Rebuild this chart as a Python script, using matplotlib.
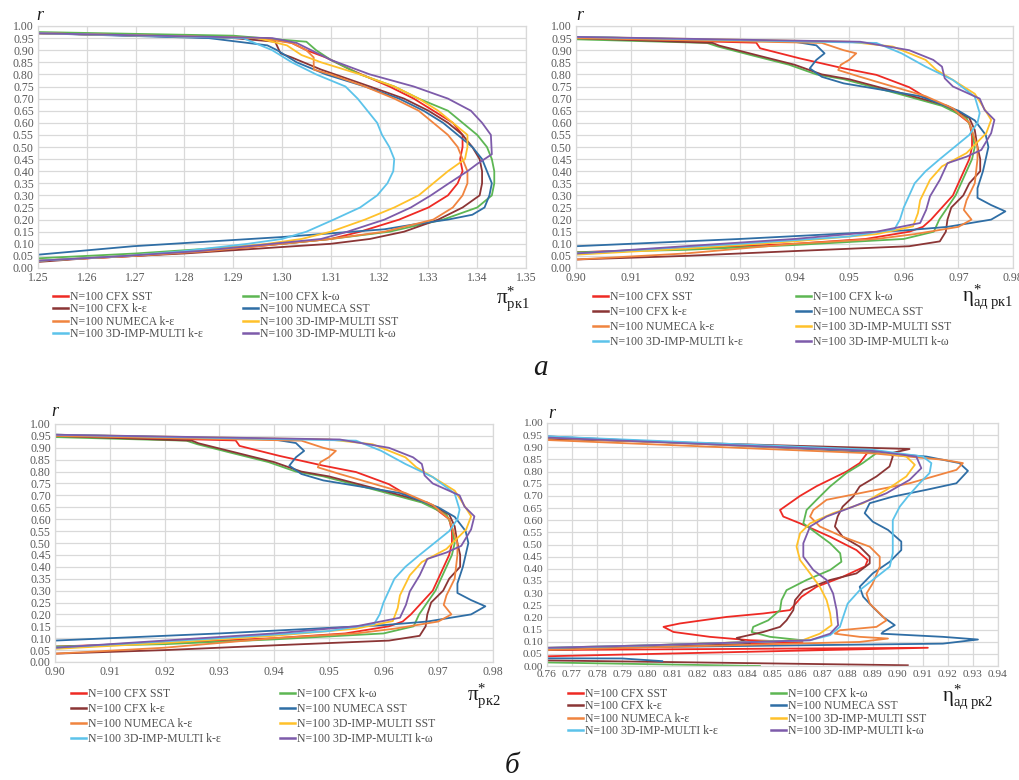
import matplotlib
matplotlib.use("Agg")
import matplotlib.pyplot as plt
from matplotlib.lines import Line2D
import numpy as np

W, H = 1019, 780
SERIF = "Liberation Serif"
plt.rcParams["mathtext.fontset"] = "custom"
plt.rcParams["mathtext.rm"] = SERIF
plt.rcParams["mathtext.it"] = SERIF + ":italic"
plt.rcParams["mathtext.bf"] = SERIF + ":bold"

NAMES = ["N=100 CFX SST", "N=100 CFX k-ω", "N=100 CFX k-ε", "N=100 NUMECA SST",
         "N=100 NUMECA k-ε", "N=100 3D-IMP-MULTI SST", "N=100 3D-IMP-MULTI k-ε",
         "N=100 3D-IMP-MULTI k-ω"]
COLORS = ["#EE2A24", "#5DB653", "#8B3535", "#2F6EA5", "#F0843F", "#FFC12A", "#5CC3EA", "#7D5BAA"]

# ---------------- Panel 1: pi*_rk1 ----------------
P1_TICKS_X = [1.25, 1.26, 1.27, 1.28, 1.29, 1.30, 1.31, 1.32, 1.33, 1.34, 1.35]
p1_cfx_sst_r = [0.97, 0.95, 0.93, 0.90, 0.87, 0.82, 0.75, 0.70, 0.65, 0.60, 0.55, 0.50, 0.45, 0.40, 0.35, 0.30, 0.25, 0.20, 0.15, 0.12, 0.10, 0.07, 0.05, 0.03]
p1_cfx_sst_x = [1.25, 1.297, 1.302, 1.305, 1.309, 1.314, 1.322, 1.327, 1.331, 1.335, 1.337, 1.337, 1.3365, 1.337, 1.336, 1.334, 1.330, 1.324, 1.316, 1.31, 1.30, 1.285, 1.27, 1.25]
p1_cfx_kw_r = [0.975, 0.96, 0.935, 0.90, 0.86, 0.80, 0.75, 0.70, 0.65, 0.60, 0.55, 0.50, 0.45, 0.40, 0.35, 0.30, 0.25, 0.20, 0.15, 0.12, 0.10, 0.08, 0.06, 0.04]
p1_cfx_kw_x = [1.25, 1.29, 1.305, 1.307, 1.310, 1.316, 1.323, 1.328, 1.334, 1.337, 1.340, 1.342, 1.343, 1.3435, 1.3435, 1.343, 1.340, 1.333, 1.322, 1.31, 1.30, 1.285, 1.27, 1.25]
p1_cfx_ke_r = [0.97, 0.95, 0.935, 0.887, 0.87, 0.82, 0.75, 0.70, 0.65, 0.60, 0.55, 0.50, 0.45, 0.40, 0.35, 0.30, 0.25, 0.20, 0.15, 0.12, 0.10, 0.08, 0.06, 0.04, 0.025]
p1_cfx_ke_x = [1.25, 1.29, 1.2986, 1.2997, 1.302, 1.308, 1.318, 1.325, 1.330, 1.334, 1.337, 1.339, 1.3405, 1.341, 1.341, 1.3405, 1.337, 1.332, 1.325, 1.318, 1.31, 1.295, 1.28, 1.26, 1.25]
p1_num_sst_r = [0.97, 0.95, 0.92, 0.90, 0.85, 0.80, 0.75, 0.70, 0.65, 0.60, 0.55, 0.50, 0.45, 0.40, 0.35, 0.30, 0.25, 0.22, 0.20, 0.18, 0.16, 0.128, 0.09, 0.055]
p1_num_sst_x = [1.25, 1.285, 1.297, 1.299, 1.303, 1.309, 1.317, 1.324, 1.329, 1.333, 1.336, 1.339, 1.341, 1.342, 1.343, 1.3425, 1.3415, 1.339, 1.334, 1.327, 1.321, 1.30, 1.2695, 1.25]
p1_num_ke_r = [0.97, 0.95, 0.93, 0.90, 0.87, 0.82, 0.80, 0.75, 0.70, 0.65, 0.60, 0.55, 0.50, 0.45, 0.40, 0.35, 0.30, 0.25, 0.20, 0.15, 0.12, 0.10, 0.07, 0.05, 0.03]
p1_num_ke_x = [1.25, 1.295, 1.302, 1.305, 1.3065, 1.3065, 1.310, 1.317, 1.323, 1.328, 1.331, 1.334, 1.336, 1.337, 1.338, 1.338, 1.337, 1.335, 1.331, 1.321, 1.31, 1.30, 1.285, 1.27, 1.25]
p1_imp_sst_r = [0.97, 0.95, 0.92, 0.88, 0.85, 0.80, 0.75, 0.70, 0.65, 0.60, 0.55, 0.50, 0.45, 0.40, 0.35, 0.30, 0.25, 0.20, 0.15, 0.12, 0.10, 0.07, 0.05, 0.03]
p1_imp_sst_x = [1.25, 1.295, 1.301, 1.304, 1.308, 1.316, 1.323, 1.328, 1.332, 1.335, 1.338, 1.338, 1.3375, 1.334, 1.331, 1.328, 1.323, 1.317, 1.31, 1.304, 1.297, 1.282, 1.268, 1.25]
p1_imp_ke_r = [0.97, 0.95, 0.90, 0.85, 0.80, 0.75, 0.70, 0.65, 0.60, 0.55, 0.50, 0.45, 0.40, 0.35, 0.30, 0.25, 0.20, 0.15, 0.12, 0.10, 0.07, 0.05, 0.03]
p1_imp_ke_x = [1.25, 1.292, 1.298, 1.302, 1.307, 1.313, 1.3155, 1.3175, 1.3195, 1.3205, 1.322, 1.323, 1.3228, 1.3216, 1.3195, 1.316, 1.3106, 1.305, 1.300, 1.293, 1.28, 1.268, 1.25]
p1_imp_kw_r = [0.97, 0.95, 0.93, 0.90, 0.86, 0.80, 0.75, 0.70, 0.65, 0.60, 0.55, 0.47, 0.43, 0.40, 0.35, 0.30, 0.25, 0.20, 0.15, 0.12, 0.10, 0.07, 0.05, 0.03]
p1_imp_kw_x = [1.25, 1.298, 1.303, 1.306, 1.31, 1.318, 1.327, 1.334, 1.3387, 1.341, 1.3428, 1.343, 1.340, 1.338, 1.3342, 1.3305, 1.3264, 1.321, 1.3134, 1.308, 1.298, 1.283, 1.268, 1.25]

# ---------------- Panel 2 (and 3): eta*_ad rk1 / pi*_rk2 ----------------
P2_TICKS_X = [0.90, 0.91, 0.92, 0.93, 0.94, 0.95, 0.96, 0.97, 0.98]
p2_cfx_sst_r = [0.95, 0.931, 0.908, 0.866, 0.825, 0.798, 0.747, 0.695, 0.653, 0.60, 0.55, 0.50, 0.45, 0.40, 0.35, 0.30, 0.25, 0.20, 0.17, 0.15, 0.12, 0.10, 0.08, 0.065]
p2_cfx_sst_x = [0.90, 0.933, 0.9337, 0.941, 0.949, 0.955, 0.961, 0.9648, 0.969, 0.972, 0.9725, 0.9725, 0.972, 0.971, 0.970, 0.969, 0.967, 0.965, 0.9635, 0.961, 0.953, 0.94, 0.92, 0.90]
p2_cfx_kw_r = [0.945, 0.93, 0.915, 0.88, 0.84, 0.80, 0.78, 0.72, 0.67, 0.62, 0.57, 0.50, 0.45, 0.40, 0.35, 0.30, 0.25, 0.20, 0.15, 0.12, 0.095, 0.075, 0.065]
p2_cfx_kw_x = [0.90, 0.924, 0.926, 0.932, 0.939, 0.944, 0.949, 0.959, 0.967, 0.9715, 0.9725, 0.973, 0.9725, 0.9715, 0.9705, 0.9695, 0.968, 0.9665, 0.9655, 0.96, 0.94, 0.92, 0.90]
p2_cfx_ke_r = [0.95, 0.93, 0.919, 0.88, 0.84, 0.80, 0.78, 0.72, 0.67, 0.62, 0.57, 0.50, 0.45, 0.40, 0.35, 0.30, 0.25, 0.20, 0.15, 0.11, 0.09, 0.07, 0.05, 0.035]
p2_cfx_ke_x = [0.90, 0.925, 0.9262, 0.933, 0.940, 0.945, 0.950, 0.960, 0.968, 0.972, 0.973, 0.9735, 0.974, 0.974, 0.972, 0.9709, 0.9687, 0.968, 0.9677, 0.9666, 0.961, 0.94, 0.92, 0.90]
p2_num_sst_r = [0.955, 0.935, 0.92, 0.887, 0.86, 0.825, 0.79, 0.763, 0.71, 0.65, 0.61, 0.55, 0.50, 0.45, 0.40, 0.33, 0.29, 0.26, 0.234, 0.20, 0.17, 0.155, 0.12, 0.09]
p2_num_sst_x = [0.90, 0.94, 0.944, 0.9455, 0.944, 0.9428, 0.945, 0.949, 0.963, 0.970, 0.973, 0.975, 0.9755, 0.975, 0.9745, 0.9735, 0.9735, 0.976, 0.9786, 0.976, 0.968, 0.96, 0.93, 0.90]
p2_num_ke_r = [0.95, 0.93, 0.90, 0.887, 0.86, 0.84, 0.818, 0.79, 0.75, 0.71, 0.66, 0.60, 0.50, 0.45, 0.35, 0.28, 0.24, 0.20, 0.17, 0.14, 0.12, 0.10, 0.08, 0.06, 0.035]
p2_num_ke_x = [0.90, 0.945, 0.949, 0.9513, 0.950, 0.9485, 0.948, 0.952, 0.958, 0.964, 0.969, 0.972, 0.9735, 0.9735, 0.973, 0.9715, 0.971, 0.9724, 0.970, 0.962, 0.955, 0.94, 0.93, 0.92, 0.90]
p2_imp_sst_r = [0.955, 0.935, 0.915, 0.86, 0.818, 0.777, 0.72, 0.667, 0.612, 0.557, 0.516, 0.475, 0.42, 0.364, 0.28, 0.227, 0.172, 0.14, 0.11, 0.08, 0.055]
p2_imp_sst_x = [0.90, 0.950, 0.958, 0.964, 0.966, 0.969, 0.973, 0.9745, 0.976, 0.9751, 0.9733, 0.9715, 0.967, 0.9648, 0.963, 0.9626, 0.9617, 0.955, 0.94, 0.92, 0.90]
p2_imp_ke_r = [0.955, 0.93, 0.887, 0.832, 0.777, 0.708, 0.64, 0.60, 0.55, 0.50, 0.45, 0.40, 0.35, 0.30, 0.25, 0.20, 0.16, 0.13, 0.10, 0.06]
p2_imp_ke_x = [0.90, 0.955, 0.9596, 0.964, 0.969, 0.973, 0.9739, 0.9735, 0.972, 0.9693, 0.9666, 0.964, 0.962, 0.961, 0.960, 0.9593, 0.9583, 0.95, 0.93, 0.90]
p2_imp_kw_r = [0.955, 0.935, 0.90, 0.86, 0.832, 0.784, 0.75, 0.70, 0.653, 0.612, 0.557, 0.488, 0.46, 0.433, 0.364, 0.296, 0.24, 0.186, 0.15, 0.12, 0.09, 0.06]
p2_imp_kw_x = [0.90, 0.952, 0.961, 0.9654, 0.967, 0.9675, 0.969, 0.9739, 0.9748, 0.9766, 0.976, 0.9742, 0.9715, 0.968, 0.9666, 0.9648, 0.9641, 0.963, 0.955, 0.94, 0.92, 0.90]

# ---------------- Panel 4: eta*_ad rk2 ----------------
P4_TICKS_X = [0.76, 0.77, 0.78, 0.79, 0.80, 0.81, 0.82, 0.83, 0.84, 0.85, 0.86, 0.87, 0.88, 0.89, 0.90, 0.91, 0.92, 0.93, 0.94]
p4_cfx_sst_r = [0.94, 0.89, 0.835, 0.80, 0.74, 0.70, 0.642, 0.615, 0.587, 0.532, 0.477, 0.436, 0.41, 0.367, 0.326, 0.285, 0.23, 0.216, 0.202, 0.175, 0.161, 0.14, 0.12, 0.106, 0.099, 0.068, 0.062, 0.075, 0.04, 0.035]
p4_cfx_sst_x = [0.76, 0.8888, 0.8848, 0.8795, 0.8676, 0.861, 0.853, 0.8543, 0.861, 0.873, 0.8835, 0.888, 0.887, 0.878, 0.8676, 0.8616, 0.857, 0.8463, 0.8317, 0.813, 0.8065, 0.8105, 0.825, 0.841, 0.862, 0.76, 0.70, 0.912, 0.76, 0.70]
p4_cfx_kw_r = [0.94, 0.89, 0.876, 0.835, 0.794, 0.739, 0.684, 0.642, 0.587, 0.546, 0.505, 0.464, 0.429, 0.395, 0.354, 0.312, 0.271, 0.23, 0.188, 0.161, 0.14, 0.12, 0.106, 0.07, 0.06, 0.02, 0.0145, 0.0]
p4_cfx_kw_x = [0.76, 0.888, 0.8915, 0.886, 0.8795, 0.873, 0.8676, 0.8636, 0.8623, 0.8676, 0.873, 0.877, 0.8775, 0.873, 0.8636, 0.8556, 0.8536, 0.853, 0.8483, 0.8423, 0.8417, 0.849, 0.862, 0.76, 0.70, 0.70, 0.76, 0.845]
p4_cfx_ke_r = [0.935, 0.893, 0.875, 0.862, 0.821, 0.78, 0.739, 0.697, 0.656, 0.615, 0.574, 0.532, 0.491, 0.45, 0.422, 0.381, 0.354, 0.312, 0.271, 0.23, 0.188, 0.161, 0.14, 0.1155, 0.092, 0.065, 0.06, 0.025, 0.023, 0.003]
p4_cfx_ke_x = [0.76, 0.9047, 0.897, 0.898, 0.8967, 0.8915, 0.8848, 0.8822, 0.878, 0.876, 0.8749, 0.878, 0.8848, 0.8888, 0.8888, 0.8835, 0.873, 0.8623, 0.859, 0.8583, 0.8556, 0.853, 0.8463, 0.8357, 0.841, 0.76, 0.70, 0.70, 0.76, 0.904]
p4_num_sst_r = [0.945, 0.88, 0.862, 0.835, 0.803, 0.752, 0.725, 0.697, 0.67, 0.629, 0.594, 0.56, 0.512, 0.477, 0.429, 0.381, 0.326, 0.285, 0.243, 0.202, 0.168, 0.14, 0.133, 0.12, 0.109, 0.092, 0.073, 0.07, 0.033, 0.031, 0.02]
p4_num_sst_x = [0.76, 0.89, 0.9114, 0.9246, 0.928, 0.9234, 0.9114, 0.898, 0.8888, 0.8868, 0.890, 0.8961, 0.9014, 0.9014, 0.8968, 0.890, 0.8848, 0.8862, 0.890, 0.8941, 0.8988, 0.8941, 0.8935, 0.918, 0.932, 0.918, 0.76, 0.70, 0.70, 0.79, 0.806]
p4_num_ke_r = [0.93, 0.875, 0.849, 0.835, 0.807, 0.752, 0.711, 0.684, 0.642, 0.615, 0.574, 0.532, 0.491, 0.45, 0.409, 0.34, 0.298, 0.257, 0.216, 0.188, 0.161, 0.147, 0.133, 0.12, 0.113, 0.099, 0.066, 0.062]
p4_num_ke_x = [0.76, 0.89, 0.918, 0.926, 0.9234, 0.9047, 0.8848, 0.8716, 0.8663, 0.865, 0.8689, 0.878, 0.8888, 0.8928, 0.8928, 0.890, 0.8875, 0.8888, 0.8928, 0.8955, 0.8915, 0.8769, 0.8749, 0.8848, 0.8961, 0.8848, 0.76, 0.70]
p4_imp_sst_r = [0.94, 0.885, 0.862, 0.828, 0.78, 0.725, 0.67, 0.629, 0.587, 0.546, 0.491, 0.436, 0.381, 0.326, 0.271, 0.216, 0.168, 0.133, 0.106, 0.085, 0.075, 0.07]
p4_imp_sst_x = [0.76, 0.89, 0.9034, 0.9068, 0.9034, 0.8955, 0.8862, 0.8742, 0.865, 0.861, 0.8596, 0.861, 0.865, 0.8689, 0.8716, 0.873, 0.8736, 0.8689, 0.862, 0.80, 0.76, 0.70]
p4_imp_ke_r = [0.945, 0.89, 0.862, 0.835, 0.794, 0.752, 0.697, 0.656, 0.60, 0.532, 0.464, 0.409, 0.354, 0.312, 0.257, 0.202, 0.161, 0.127, 0.106, 0.085, 0.075, 0.07]
p4_imp_ke_x = [0.76, 0.89, 0.910, 0.9134, 0.9127, 0.9087, 0.904, 0.9008, 0.898, 0.898, 0.898, 0.8968, 0.890, 0.8848, 0.880, 0.8782, 0.8769, 0.873, 0.865, 0.80, 0.76, 0.70]
p4_imp_kw_r = [0.94, 0.885, 0.862, 0.814, 0.766, 0.711, 0.656, 0.615, 0.574, 0.505, 0.45, 0.395, 0.354, 0.298, 0.23, 0.168, 0.133, 0.106, 0.085, 0.075, 0.07]
p4_imp_kw_x = [0.76, 0.89, 0.9074, 0.9094, 0.9047, 0.8955, 0.8822, 0.8716, 0.865, 0.8623, 0.8623, 0.8663, 0.8716, 0.8742, 0.8756, 0.8762, 0.873, 0.865, 0.80, 0.76, 0.70]

P1 = [(p1_cfx_sst_x, p1_cfx_sst_r), (p1_cfx_kw_x, p1_cfx_kw_r), (p1_cfx_ke_x, p1_cfx_ke_r),
      (p1_num_sst_x, p1_num_sst_r), (p1_num_ke_x, p1_num_ke_r), (p1_imp_sst_x, p1_imp_sst_r),
      (p1_imp_ke_x, p1_imp_ke_r), (p1_imp_kw_x, p1_imp_kw_r)]
P2 = [(p2_cfx_sst_x, p2_cfx_sst_r), (p2_cfx_kw_x, p2_cfx_kw_r), (p2_cfx_ke_x, p2_cfx_ke_r),
      (p2_num_sst_x, p2_num_sst_r), (p2_num_ke_x, p2_num_ke_r), (p2_imp_sst_x, p2_imp_sst_r),
      (p2_imp_ke_x, p2_imp_ke_r), (p2_imp_kw_x, p2_imp_kw_r)]
P4 = [(p4_cfx_sst_x, p4_cfx_sst_r), (p4_cfx_kw_x, p4_cfx_kw_r), (p4_cfx_ke_x, p4_cfx_ke_r),
      (p4_num_sst_x, p4_num_sst_r), (p4_num_ke_x, p4_num_ke_r), (p4_imp_sst_x, p4_imp_sst_r),
      (p4_imp_ke_x, p4_imp_ke_r), (p4_imp_kw_x, p4_imp_kw_r)]
R_TICKS = [round(0.05 * i, 2) for i in range(21)]

fig = plt.figure(figsize=(W / 100, H / 100), dpi=100)
fig.patch.set_facecolor("white")

def px_axes(l, r, t, b):
    return fig.add_axes([l / W, 1 - b / H, (r - l) / W, (b - t) / H])

def fx(x):
    return x / W

def fy(y):
    return 1 - y / H

GRID = "#d9d9d9"
TICKC = "#595959"

def setup(ax, xticks, fs):
    ax.set_xlim(xticks[0], xticks[-1])
    ax.set_ylim(0, 1.0)
    ax.set_xticks(xticks)
    ax.set_xticklabels([f"{v:.2f}" for v in xticks], fontfamily=SERIF, fontsize=fs, color=TICKC)
    ax.set_yticks(R_TICKS)
    ax.set_yticklabels([f"{v:.2f}" for v in R_TICKS], fontfamily=SERIF, fontsize=fs, color=TICKC)
    ax.tick_params(length=0, pad=3)
    ax.grid(True, color=GRID, lw=0.9)
    ax.set_axisbelow(True)
    for s in ax.spines.values():
        s.set_color(GRID)
        s.set_linewidth(0.9)

def draw(ax, data):
    for (xs, rs), c, n in zip(data, COLORS, NAMES):
        ax.plot(xs, rs, color=c, lw=1.3, label=n, solid_joinstyle="round")

def legends(ax, x1, x2, ytop, spacing):
    hs = [Line2D([], [], color=c, lw=1.8) for c in COLORS]
    col1 = [0, 2, 4, 6]
    col2 = [1, 3, 5, 7]
    leg_objs = []
    for xs, idx in ((x1, col1), (x2, col2)):
        leg = ax.legend([hs[i] for i in idx], [NAMES[i] for i in idx], loc="upper left",
                        bbox_to_anchor=(fx(xs), fy(ytop)), bbox_transform=fig.transFigure,
                        frameon=False, borderpad=0, borderaxespad=0, handlelength=1.3,
                        handletextpad=0.1, labelspacing=spacing,
                        prop={"family": SERIF, "size": 8.5})
        for t in leg.get_texts():
            t.set_color("#505050")
        leg_objs.append(leg)
    ax.add_artist(leg_objs[0])

def xlabel(sym, sub, x, y):
    s = r"$\mathrm{" + sym + r"}^{*}_{\mathrm{" + sub.replace(" ", r"\ ") + r"}}$"
    fig.text(fx(x), fy(y), s, fontsize=15, ha="left", va="baseline", color="#1a1a1a")

def rlabel(x, y):
    fig.text(fx(x), fy(y), "r", fontfamily=SERIF, fontstyle="italic", fontsize=13, ha="center", va="center", color="#1a1a1a")

# Panel 1
ax1 = px_axes(38, 526, 26, 268)
setup(ax1, P1_TICKS_X, 8.5)
draw(ax1, P1)
legends(ax1, 53, 243, 291, 0.04)
xlabel("π", "рк1", 496, 304)
rlabel(40, 16)

# Panel 2
ax2 = px_axes(576, 1013, 26, 268)
setup(ax2, P2_TICKS_X, 8.5)
draw(ax2, P2)
legends(ax2, 593, 796, 291, 0.25)
xlabel("η", "ад рк1", 962, 302)
rlabel(580, 16)

# Panel 3 (same curves as panel 2)
ax3 = px_axes(55, 493, 424, 662)
setup(ax3, P2_TICKS_X, 8.5)
draw(ax3, P2)
legends(ax3, 71, 280, 688, 0.25)
xlabel("π", "рк2", 467, 701)
rlabel(55, 412)

# Panel 4
ax4 = px_axes(547, 998, 423, 666)
setup(ax4, P4_TICKS_X, 8.2)
draw(ax4, P4)
legends(ax4, 568, 771, 688, 0.04)
xlabel("η", "ад рк2", 942, 702)
rlabel(552, 413)

fig.text(fx(540), fy(368), "а", fontfamily=SERIF, fontstyle="italic", fontsize=21, ha="center", va="center", color="#1a1a1a")
fig.text(fx(512), fy(766), "б", fontfamily=SERIF, fontstyle="italic", fontsize=21, ha="center", va="center", color="#1a1a1a")

fig.savefig("out.png", dpi=100, facecolor="white")
